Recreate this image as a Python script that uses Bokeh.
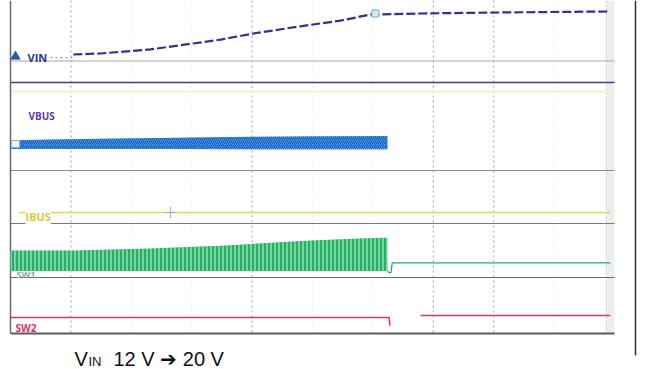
import numpy as np
from bokeh.plotting import figure
from bokeh.models import Range1d, Label
from bokeh.core.properties import value
from bokeh.embed import file_html
from bokeh.resources import INLINE

# ---------------- data read from the scope capture ----------------
TIME_PER_DIV_US = 100
N_DIV = 10

VIN_T_US = [104, 149, 232, 348, 402, 480, 546, 596, 679, 811, 993]
VIN_V = [12.0, 12.2, 13.0, 14.9, 16.1, 17.5, 18.6, 19.8, 20.0, 20.2, 20.4]
VIN_CURSOR_T_US = [604]

VBUS_T_US = [0, 120, 250, 400, 520, 624]
VBUS_RIPPLE_HI_MV = [40, 55, 70, 85, 90, 95]
VBUS_RIPPLE_LO_MV = [-70, -70, -70, -72, -72, -72]

IBUS_T_US = [14, 993]
IBUS_A = [0.0, 0.0]
IBUS_CURSOR_T_US = [265]

SW1_T_US = [0, 104, 232, 348, 480, 596, 624]
SW1_PEAK_V = [12.0, 12.0, 13.2, 14.8, 17.6, 19.4, 19.6]
SW1_TAIL_T_US = [624, 627, 630, 632, 993]
SW1_TAIL_V = [0.0, -1.0, -1.0, 4.8, 4.8]

SW2_T_US = [0, 627, 628, 629, np.nan, 679, 993]
SW2_V = [0.0, 0.0, -4.5, -4.5, np.nan, 1.2, 1.2]

GRID_STRONG_DIV = [1, 4, 7, 8]

CAPTION_MAIN = "V"
CAPTION_SUB = "IN"
CAPTION_REST = "12 V \u2794 20 V"

# ---------------- layout (page pixels) ----------------
W, H = 645, 369
PAGE_X0, PAGE_Y0 = 0, 0
SCR_X0, SCR_X1 = 10, 614
SCR_Y1 = 333
PX_PER_US = (SCR_X1 - SCR_X0) / (N_DIV * TIME_PER_DIV_US)


def t_of(px):
    return (px - SCR_X0) / PX_PER_US


def arr(a):
    return np.asarray(a, dtype=float)


# channel scaling: page-y of reference level and pixels per unit
VIN_REF_V, VIN_REF_PX, VIN_PX_PER_V = 12.0, 54.0, 5.125
VBUS_MID_PX, VBUS_PX_PER_MV = 143.0, 0.08
IBUS_ZERO_PX = 212.0
SW1_ZERO_PX, SW1_PX_PER_V = 270.5, 1.7
SW2_ZERO_PX, SW2_PX_PER_V = 317.0, 1.7

C_VIN = "#2b3590"
C_VBUS_LBL = "#5a3aa8"
C_VBUS = "#4695e4"
C_IBUS = "#e2d84a"
C_SW1 = "#22b262"
C_SW2 = "#d8346c"

p = figure(width=W, height=H,
           x_range=Range1d(t_of(PAGE_X0), t_of(PAGE_X0 + W)),
           y_range=Range1d(PAGE_Y0 + H, PAGE_Y0),
           output_backend="svg", toolbar_location=None,
           x_axis_location=None, y_axis_location=None,
           min_border=0, outline_line_color=None)
p.grid.visible = False
p.background_fill_color = "white"
p.border_fill_color = "white"

top_px = 0
# right grey strip of the scope
p.quad(left=[t_of(606)], right=[t_of(SCR_X1)], top=[top_px], bottom=[SCR_Y1],
       fill_color="#eeeeee", line_color=None)

# vertical grid
for k in range(1, N_DIV):
    strong = k in GRID_STRONG_DIV
    p.segment(x0=[k * TIME_PER_DIV_US], x1=[k * TIME_PER_DIV_US], y0=[top_px], y1=[SCR_Y1],
              line_color="#a0a0a0" if strong else "#dcdcdc",
              line_dash="2 3" if strong else "1 4", line_width=1)
p.segment(x0=[t_of(606)], x1=[t_of(606)], y0=[top_px], y1=[SCR_Y1],
          line_color="#c8c8c8", line_dash="2 2", line_width=1)

# horizontal separators
seps = [(60.5, "#a8a8a8", 1.0), (82.0, "#3e3a9c", 1.6), (91.0, "#f4efc8", 2.0),
        (170.0, "#8c8c8c", 1.0), (223.0, "#7a7a7a", 1.2), (277.0, "#6a6a6a", 1.2)]
for yy, cc, ww in seps:
    p.segment(x0=[t_of(SCR_X0)], x1=[t_of(SCR_X1)], y0=[yy], y1=[yy], line_color=cc, line_width=ww)
p.segment(x0=[t_of(SCR_X0)], x1=[t_of(SCR_X1)], y0=[SCR_Y1], y1=[SCR_Y1], line_color="#5a5a5a", line_width=2)
p.segment(x0=[t_of(SCR_X0)], x1=[t_of(SCR_X0)], y0=[top_px], y1=[SCR_Y1], line_color="#6a6a6a", line_width=1.5)
# outer right frame line
p.segment(x0=[t_of(635)], x1=[t_of(635)], y0=[top_px], y1=[355], line_color="#333333", line_width=1.5)

# ---------------- traces ----------------
vin_px = VIN_REF_PX - (arr(VIN_V) - VIN_REF_V) * VIN_PX_PER_V
p.line(x=VIN_T_US, y=vin_px, line_color=C_VIN, line_width=2.2, line_dash="9 3")
p.scatter(x=VIN_CURSOR_T_US, y=[13], marker="square", size=7,
          fill_color="#d6ebf8", line_color="#6aaee0")
p.segment(x0=[t_of(50)], x1=[VIN_T_US[0]], y0=[57], y1=[57], line_color="#8a8fc0",
          line_dash="2 3", line_width=1)
p.scatter(x=[t_of(15)], y=[56], marker="triangle", size=9, fill_color="#2b55b0", line_color="#2b55b0")

# VBUS ripple band
vb_hi = VBUS_MID_PX - arr(VBUS_RIPPLE_HI_MV) * VBUS_PX_PER_MV
vb_lo = VBUS_MID_PX - arr(VBUS_RIPPLE_LO_MV) * VBUS_PX_PER_MV
p.varea(x=VBUS_T_US, y1=vb_hi, y2=vb_lo, fill_color=C_VBUS,
        hatch_pattern="/", hatch_color="#1458b8", hatch_scale=4, hatch_weight=1.0)
p.quad(left=[t_of(11)], right=[t_of(19)], top=[140], bottom=[147],
       fill_color="#eef4fb", line_color="#8ab0d8")

# IBUS
ibus_px = IBUS_ZERO_PX - arr(IBUS_A)
p.line(x=IBUS_T_US, y=ibus_px, line_color=C_IBUS, line_width=1.4)
p.scatter(x=IBUS_CURSOR_T_US, y=[IBUS_ZERO_PX], marker="cross", size=11,
          line_color="#9ab0d0", line_width=1)

# SW1 label (mostly hidden under the switching band)
p.text(x=[t_of(16)], y=[274], text=["SW1"], text_font=value("Open Sans"),
       text_font_size="9px", text_font_style="bold", text_color="#8aa898",
       text_baseline="alphabetic")
sw1_top = SW1_ZERO_PX - arr(SW1_PEAK_V) * SW1_PX_PER_V
sw1_bot = np.full(len(SW1_T_US), SW1_ZERO_PX)
p.varea(x=SW1_T_US, y1=sw1_top, y2=sw1_bot, fill_color=C_SW1,
        hatch_pattern="|", hatch_color="white", hatch_scale=4, hatch_weight=1, hatch_alpha=0.8)
sw1_tail = SW1_ZERO_PX - arr(SW1_TAIL_V) * SW1_PX_PER_V
p.line(x=SW1_TAIL_T_US, y=sw1_tail, line_color=C_SW1, line_width=1.3)

# SW2
sw2_px = SW2_ZERO_PX - arr(SW2_V) * SW2_PX_PER_V
p.line(x=SW2_T_US, y=sw2_px, line_color=C_SW2, line_width=1.6)

# ---------------- channel labels ----------------
def lab(px, py, text, color, size="10px", bg=None):
    kw = dict(x=t_of(px), y=py, text=text, text_color=color, text_font_size=size,
              text_font="Open Sans", text_font_style="bold", text_baseline="alphabetic")
    if bg:
        kw.update(background_fill_color=bg, background_fill_alpha=1.0)
    p.add_layout(Label(**kw))

lab(27, 57, "VIN", C_VIN, size="11px")
lab(28, 115, "VBUS", C_VBUS_LBL)
lab(25, 216, "IBUS", "#d6cc3a", size="11px", bg="white")
lab(15, 327, "SW2", C_SW2)

# caption (text glyphs)
p.text(x=[t_of(74), t_of(113)], y=[358, 358], text=[CAPTION_MAIN, CAPTION_REST],
       text_font=value("Liberation Sans"), text_font_size="20px",
       text_color="#111111", text_baseline="alphabetic")
p.text(x=[t_of(88)], y=[361], text=[CAPTION_SUB],
       text_font=value("Liberation Sans"), text_font_size="13px",
       text_color="#111111", text_baseline="alphabetic")

open("out.html", "w").write(file_html(p, INLINE))
